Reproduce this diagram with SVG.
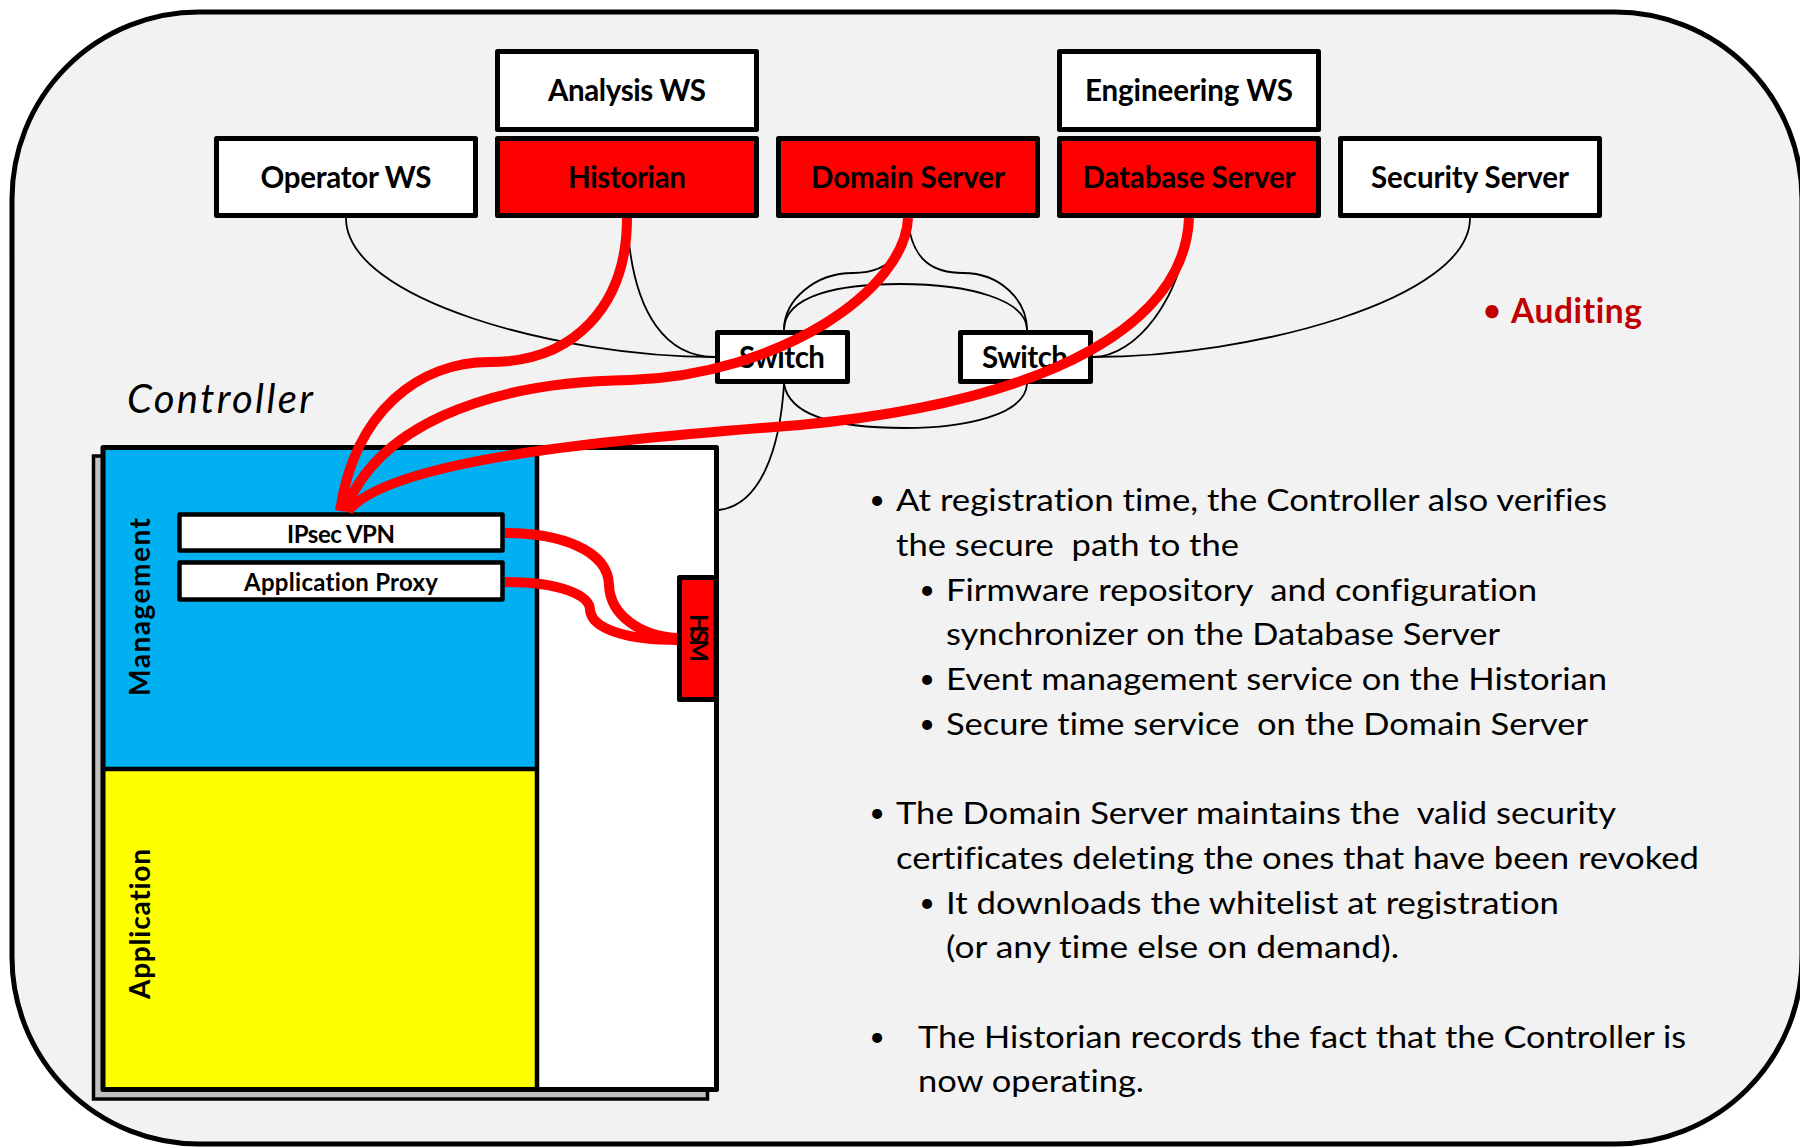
<svg xmlns="http://www.w3.org/2000/svg" width="1800" height="1147" viewBox="0 0 1800 1147">
  <style>
    text { font-variant-ligatures: none; font-feature-settings: "liga" 0, "dlig" 0; }
    .frame { fill: #F2F2F2; stroke: #000; stroke-width: 5; }
    .box { stroke: #000; stroke-width: 5; stroke-linejoin: round; }
    .white { fill: #FFFFFF; }
    .red { fill: #FF0000; }
    .lbl { font-family: Lato, "Liberation Sans", sans-serif; font-weight: bold; font-size: 29.5px; fill: #000; text-anchor: middle; }
    .small { font-size: 24px; }
    .wire { fill: none; stroke: #000; stroke-width: 1.8; }
    .secure { fill: none; stroke: #FF0000; stroke-width: 10; stroke-linecap: butt; }
    .body { font-family: Lato, "Liberation Sans", sans-serif; font-size: 31.5px; fill: #000; white-space: pre; }
    .dot { font-family: Lato, "Liberation Sans", sans-serif; font-size: 27px; fill: #000; text-anchor: middle; }
  </style>

  <!-- plant network enclosure -->
  <rect class="frame" x="12" y="12" width="1790" height="1132" rx="187" ry="187"/>

  <!-- servers and workstations -->
  <g id="analysis-ws">
    <rect class="box white" x="497.5" y="51.5" width="259" height="78"/>
    <text class="lbl" x="627" y="101" textLength="158">Analysis WS</text>
  </g>
  <g id="engineering-ws">
    <rect class="box white" x="1059.5" y="51.5" width="259" height="78"/>
    <text class="lbl" x="1189" y="101" textLength="208">Engineering WS</text>
  </g>
  <g id="operator-ws">
    <rect class="box white" x="216.5" y="138.5" width="259" height="77"/>
    <text class="lbl" x="346" y="188" textLength="171">Operator WS</text>
  </g>
  <g id="historian">
    <rect class="box red" x="497.5" y="138.5" width="259" height="77"/>
    <text class="lbl" x="627" y="188" textLength="118">Historian</text>
  </g>
  <g id="domain-server">
    <rect class="box red" x="778.5" y="138.5" width="259" height="77"/>
    <text class="lbl" x="908" y="188" textLength="194">Domain Server</text>
  </g>
  <g id="database-server">
    <rect class="box red" x="1059.5" y="138.5" width="259" height="77"/>
    <text class="lbl" x="1189" y="188" textLength="213">Database Server</text>
  </g>
  <g id="security-server">
    <rect class="box white" x="1340.5" y="138.5" width="259" height="77"/>
    <text class="lbl" x="1470" y="188" textLength="198">Security Server</text>
  </g>

  <!-- network switches -->
  <g id="switch-1">
    <rect class="box white" x="717.5" y="332.5" width="130" height="49"/>
    <text class="lbl" x="782" y="368" textLength="86">Switch</text>
  </g>
  <g id="switch-2">
    <rect class="box white" x="960.5" y="332.5" width="130" height="49"/>
    <text class="lbl" x="1025" y="368" textLength="86">Switch</text>
  </g>

  <!-- controller -->
  <g id="controller">
    <text x="127" y="413" textLength="186" style="font-family: Lato, 'Liberation Sans', sans-serif; font-style: italic; font-size: 40px; fill: #000;">Controller</text>
    <rect x="93.5" y="456" width="614" height="643" fill="#C0C0C0" stroke="#000" stroke-width="3.5"/>
    <rect x="103" y="447.5" width="613.5" height="642" fill="#FFFFFF"/>
    <rect x="103" y="447.5" width="434" height="321.5" fill="#00B0F0"/>
    <rect x="103" y="769" width="434" height="320.5" fill="#FFFF00"/>
    <line x1="537" y1="447.5" x2="537" y2="1089.5" stroke="#000" stroke-width="4.5"/>
    <line x1="103" y1="769" x2="537" y2="769" stroke="#000" stroke-width="4.5"/>
    <rect x="103" y="447.5" width="613.5" height="642" fill="none" stroke="#000" stroke-width="5" stroke-linejoin="round"/>
    <text class="lbl" transform="translate(150,607) rotate(-90)" x="0" y="0" textLength="178" style="font-size: 28px;">Management</text>
    <text class="lbl" transform="translate(150,924) rotate(-90)" x="0" y="0" textLength="150" style="font-size: 28px;">Application</text>
  </g>
  <g id="ipsec-vpn">
    <rect class="box white" x="179.5" y="514.5" width="323" height="36" style="stroke-width: 4.5;"/>
    <text class="lbl small" x="341" y="543" textLength="108">IPsec VPN</text>
  </g>
  <g id="application-proxy">
    <rect class="box white" x="179.5" y="562.5" width="323" height="37" style="stroke-width: 4.5;"/>
    <text class="lbl small" x="341" y="591" textLength="194">Application Proxy</text>
  </g>
  <g id="hsm">
    <rect class="box red" x="679.5" y="577.5" width="36.5" height="122"/>
    <text class="lbl small" transform="translate(690,638) rotate(90)" x="0" y="0" textLength="48">HSM</text>
  </g>

  <!-- links -->
  <g id="connectors">
    <path class="wire" d="M346,218 C346,300 560,357 715,357"/>
    <path class="wire" d="M627,218 C632,320 670,357 715,357"/>
    <path class="wire" d="M908,218 C905,262 880,273 853,273 C815,273 784,300 784,330"/>
    <path class="wire" d="M908,218 C911,262 935,273 963,273 C1000,273 1027,300 1027,330"/>
    <path class="wire" d="M784,330 C784,295 840,284 900,284 C970,284 1027,300 1027,330"/>
    <path class="wire" d="M784,384 C790,420 850,428 905,428 C965,428 1025,415 1027,384"/>
    <path class="wire" d="M784,384 C780,450 760,505 719,510"/>
    <path class="wire" d="M1189,218 C1183,300 1135,357 1093,357"/>
    <path class="wire" d="M1470,218 C1470,300 1250,357 1093,357"/>

    <path class="secure" d="M627,218 C627,305 575,362 490,362 C420,362 355,410 340,511"/>
    <path class="secure" d="M908,218 C905,290 780,375 630,380 C480,382 375,430 345,511"/>
    <path class="secure" d="M1189,218 C1185,320 1060,400 800,425 C600,440 390,460 348,511"/>
    <path class="secure" d="M505,533 C560,533 608,550 609,585 C610,615 640,636 677,638"/>
    <path class="secure" d="M505,582 C560,582 590,595 590,610 C592,630 630,640 677,640"/>
  </g>

  <!-- notes -->
  <g id="auditing">
    <text x="1492" y="321" style="font-family: Lato, 'Liberation Sans', sans-serif; font-weight: bold; font-size: 30px; fill: #C00000; text-anchor: middle;">•</text>
    <text x="1511" y="323" textLength="131" style="font-family: Lato, 'Liberation Sans', sans-serif; font-weight: bold; font-size: 33.5px; fill: #C00000;">Auditing</text>
  </g>
  <g id="notes">
    <text class="dot" x="877" y="509">•</text>
    <text class="body" x="896" y="511" textLength="711" lengthAdjust="spacingAndGlyphs">At registration time, the Controller also verifies</text>
    <text class="body" x="896" y="556" textLength="343" lengthAdjust="spacingAndGlyphs">the secure  path to the</text>
    <text class="dot" x="927" y="599">•</text>
    <text class="body" x="946" y="601" textLength="591" lengthAdjust="spacingAndGlyphs">Firmware repository  and configuration</text>
    <text class="body" x="946" y="645" textLength="554" lengthAdjust="spacingAndGlyphs">synchronizer on the Database Server</text>
    <text class="dot" x="927" y="688">•</text>
    <text class="body" x="946" y="690" textLength="661" lengthAdjust="spacingAndGlyphs">Event management service on the Historian</text>
    <text class="dot" x="927" y="733">•</text>
    <text class="body" x="946" y="735" textLength="642" lengthAdjust="spacingAndGlyphs">Secure time service  on the Domain Server</text>

    <text class="dot" x="877" y="822">•</text>
    <text class="body" x="896" y="824" textLength="720" lengthAdjust="spacingAndGlyphs">The Domain Server maintains the  valid security</text>
    <text class="body" x="896" y="869" textLength="803" lengthAdjust="spacingAndGlyphs">certificates deleting the ones that have been revoked</text>
    <text class="dot" x="927" y="912">•</text>
    <text class="body" x="946" y="914" textLength="613" lengthAdjust="spacingAndGlyphs">It downloads the whitelist at registration</text>
    <text class="body" x="946" y="958" textLength="453" lengthAdjust="spacingAndGlyphs">(or any time else on demand).</text>

    <text class="dot" x="877" y="1046">•</text>
    <text class="body" x="918" y="1048" textLength="768" lengthAdjust="spacingAndGlyphs">The Historian records the fact that the Controller is</text>
    <text class="body" x="918" y="1092" textLength="226" lengthAdjust="spacingAndGlyphs">now operating.</text>
  </g>
</svg>
